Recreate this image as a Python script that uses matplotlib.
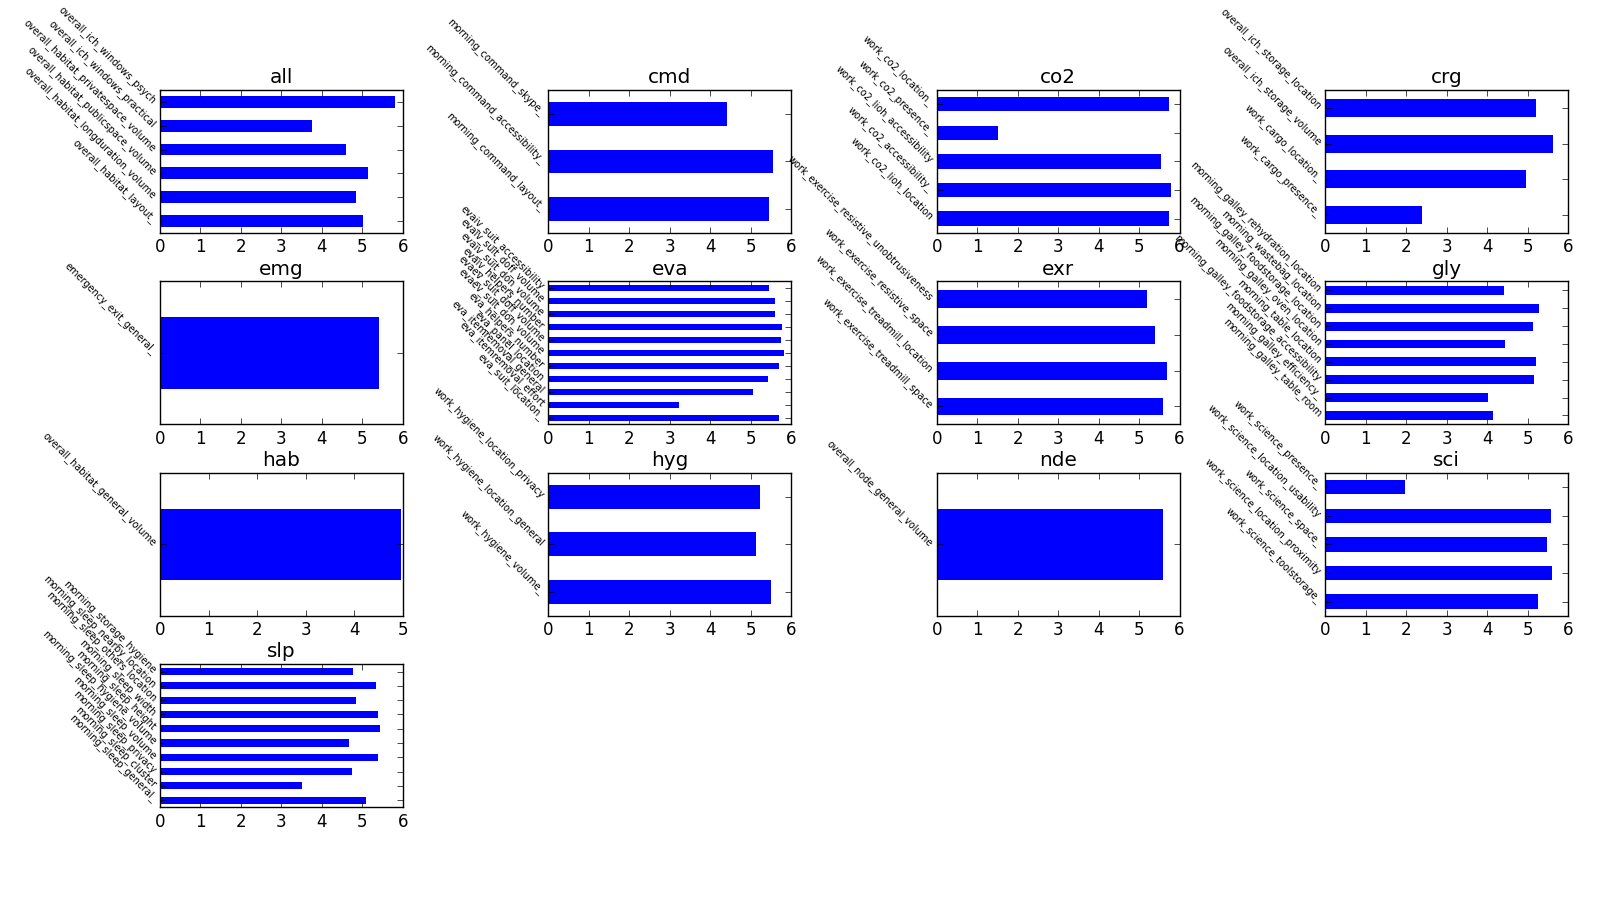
import matplotlib
matplotlib.use("Agg")
import matplotlib.pyplot as plt
import numpy as np

# labels and values listed top-to-bottom as they appear in each panel
all_labels = ["overall_ich_windows_psych", "overall_ich_windows_practical",
              "overall_habitat_privatespace_volume", "overall_habitat_publicspace_volume",
              "overall_habitat_longduration_volume", "overall_habitat_layout_"]
all_values = [5.80, 3.76, 4.60, 5.15, 4.85, 5.02]

cmd_labels = ["morning_command_skype_", "morning_command_accessibility_",
              "morning_command_layout_"]
cmd_values = [4.41, 5.54, 5.44]

co2_labels = ["work_co2_location_", "work_co2_presence_", "work_co2_lioh_accessibility",
              "work_co2_accessibility_", "work_co2_lioh_location"]
co2_values = [5.73, 1.51, 5.53, 5.78, 5.73]

crg_labels = ["overall_ich_storage_location", "overall_ich_storage_volume",
              "work_cargo_location_", "work_cargo_presence_"]
crg_values = [5.22, 5.63, 4.95, 2.39]

emg_labels = ["emergency_exit_general_"]
emg_values = [5.42]

eva_labels = ["evaiv_suit_accessibility", "evaiv_suit_doff_volume", "evaiv_suit_don_volume",
              "evaiv_helpers_number", "evaev_suit_doff_volume", "evaev_suit_don_volume",
              "eva_helpers_number", "eva_panel_location", "eva_itemremoval_general",
              "eva_itemremoval_effort", "eva_suit_location_"]
eva_values = [5.44, 5.59, 5.59, 5.77, 5.74, 5.82, 5.69, 5.42, 5.06, 3.22, 5.69]

exr_labels = ["work_exercise_resistive_unobtrusiveness", "work_exercise_resistive_space",
              "work_exercise_treadmill_location", "work_exercise_treadmill_space"]
exr_values = [5.20, 5.40, 5.70, 5.58]

gly_labels = ["morning_galley_rehydration_location", "morning_wastebag_location",
              "morning_galley_foodstorage_location", "morning_galley_oven_location",
              "morning_table_location", "morning_galley_foodstorage_accessibility",
              "morning_galley_efficiency_", "morning_galley_table_room"]
gly_values = [4.43, 5.28, 5.13, 4.45, 5.20, 5.15, 4.02, 4.15]

hab_labels = ["overall_habitat_general_volume"]
hab_values = [4.96]

hyg_labels = ["work_hygiene_location_privacy", "work_hygiene_location_general",
              "work_hygiene_volume_"]
hyg_values = [5.24, 5.14, 5.49]

nde_labels = ["overall_node_general_volume"]
nde_values = [5.60]

sci_labels = ["work_science_presence_", "work_science_location_usability",
              "work_science_space_", "work_science_location_proximity",
              "work_science_toolstorage_"]
sci_values = [1.98, 5.58, 5.48, 5.60, 5.25]

slp_labels = ["morning_storage_hygiene", "morning_sleep_nearby_location",
              "morning_sleep_others_location", "morning_sleep_width",
              "morning_sleep_height", "morning_sleep_hygiene_volume",
              "morning_sleep_volume", "morning_sleep_privacy",
              "morning_sleep_cluster", "morning_sleep_general_"]
slp_values = [4.76, 5.34, 4.84, 5.39, 5.44, 4.66, 5.39, 4.74, 3.50, 5.09]

groups = [("all", all_labels, all_values), ("cmd", cmd_labels, cmd_values),
          ("co2", co2_labels, co2_values), ("crg", crg_labels, crg_values),
          ("emg", emg_labels, emg_values), ("eva", eva_labels, eva_values),
          ("exr", exr_labels, exr_values), ("gly", gly_labels, gly_values),
          ("hab", hab_labels, hab_values), ("hyg", hyg_labels, hyg_values),
          ("nde", nde_labels, nde_values), ("sci", sci_labels, sci_values),
          ("slp", slp_labels, slp_values)]

plt.style.use("classic")
fig, axes = plt.subplots(4, 4, figsize=(16, 9), dpi=100, facecolor="white")
fig.subplots_adjust(left=0.1, right=0.98, top=0.9, bottom=0.103, wspace=0.6, hspace=0.34)
axes = axes.ravel()

for ax, (name, labels, values) in zip(axes, groups):
    n = len(values)
    pos = np.arange(n)[::-1]
    ax.barh(pos, values, height=0.5, color="#0000ff", linewidth=0)
    ax.set_ylim(-0.5, n - 0.5)
    ax.set_yticks(pos)
    ax.set_yticklabels(labels, rotation=-45, rotation_mode="anchor",
                       ha="right", va="center", fontsize=7)
    ax.set_title(name)

for ax in axes[len(groups):]:
    ax.axis("off")

fig.savefig("out.png", dpi=100, facecolor="white")
